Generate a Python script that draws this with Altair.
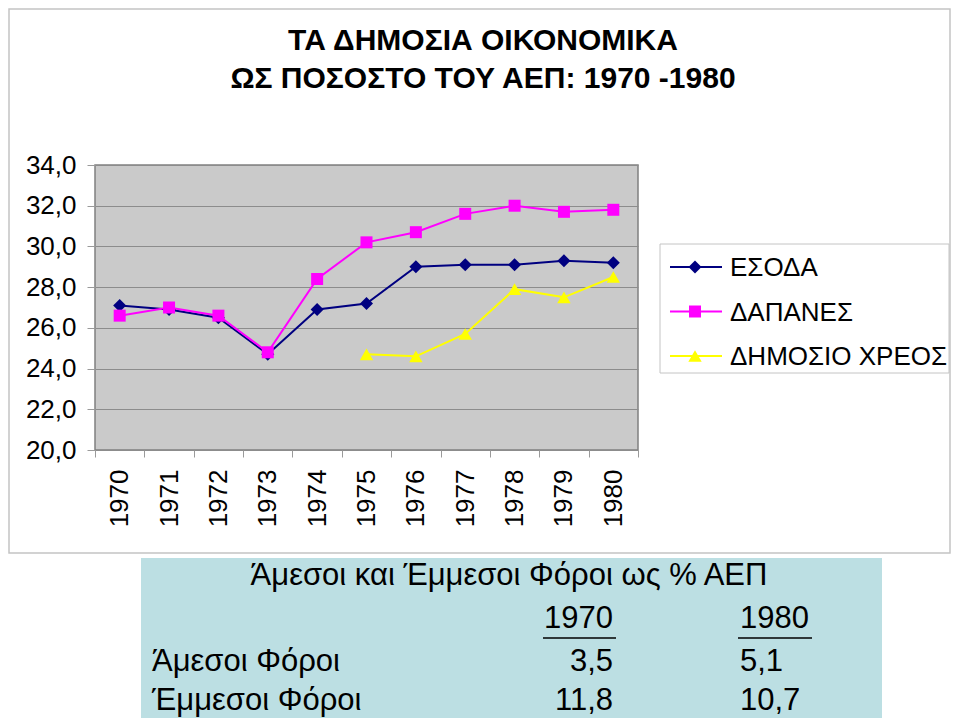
import altair as alt
import pandas as pd

# ---------------- data ----------------
years = ["1970", "1971", "1972", "1973", "1974", "1975", "1976", "1977", "1978", "1979", "1980"]
series = ["ΕΣΟΔΑ", "ΔΑΠΑΝΕΣ", "ΔΗΜΟΣΙΟ ΧΡΕΟΣ"]
esoda = [27.1, 26.9, 26.5, 24.7, 26.9, 27.2, 29.0, 29.1, 29.1, 29.3, 29.2]
dapanes = [26.6, 27.0, 26.6, 24.8, 28.4, 30.2, 30.7, 31.6, 32.0, 31.7, 31.8]
xreos = [None, None, None, None, None, 24.7, 24.6, 25.7, 27.9, 27.5, 28.5]
y_ticks = [20, 22, 24, 26, 28, 30, 32, 34]

title_lines = ["ΤΑ ΔΗΜΟΣΙΑ ΟΙΚΟΝΟΜΙΚΑ", "ΩΣ ΠΟΣΟΣΤΟ ΤΟΥ ΑΕΠ: 1970 -1980"]

tax_title = "Άμεσοι και Έμμεσοι Φόροι ως % ΑΕΠ"
tax_years = ["1970", "1980"]
tax_rows = ["Άμεσοι Φόροι", "Έμμεσοι Φόροι"]
tax_1970 = [3.5, 11.8]
tax_1980 = [5.1, 10.7]

# ---------------- styles ----------------
colors = ["#000080", "#ff00ff", "#ffff00"]
shapes = ["diamond", "square", "triangle-up"]
sizes = [170, 144, 180]
FONT = "Liberation Sans"

rows = []
for s, vals in zip(series, [esoda, dapanes, xreos]):
    for yr, v in zip(years, vals):
        if v is not None:
            rows.append({"year": yr, "series": s, "value": v})
df = pd.DataFrame(rows)

def fmt(v):
    return f"{v:.1f}".replace(".", ",")

x_enc = alt.X(
    "year:O",
    bandPosition=0.5,
    scale=alt.Scale(type="band", domain=years, paddingInner=0, paddingOuter=0),
    axis=alt.Axis(
        title=None, labelAngle=-90, labelFontSize=26, labelColor="black",
        labelFont=FONT, tickBand="extent", tickSize=7, tickColor="#9a9a9a",
        labelPadding=12, domain=False, grid=False,
    ),
)
y_enc = alt.Y(
    "value:Q",
    scale=alt.Scale(domain=[20, 34], nice=False, zero=False),
    axis=alt.Axis(
        title=None, values=y_ticks,
        labelExpr="replace(format(datum.value, '.1f'), '.', ',')",
        labelFontSize=26, labelColor="black", labelFont=FONT,
        tickSize=8, tickColor="#9a9a9a", labelPadding=11, domain=False,
        grid=True, gridColor="#8c8c8c", gridWidth=1,
    ),
)
color_enc = alt.Color("series:N", scale=alt.Scale(domain=series, range=colors), legend=None)

one = pd.DataFrame({"k": [0]})

layers = []

# outer border of the chart area
layers.append(
    alt.Chart(one).mark_rect(fillOpacity=0, stroke="#c4c4c4", strokeWidth=1.5).encode(
        x=alt.value(-86), x2=alt.value(855), y=alt.value(-156), y2=alt.value(388)
    )
)

lines = alt.Chart(df).mark_line(strokeWidth=2).encode(x=x_enc, y=y_enc, color=color_enc)
layers.append(lines)
for s, shp, sz in zip(series, shapes, sizes):
    layers.append(
        alt.Chart(df).transform_filter(alt.datum.series == s)
        .mark_point(filled=True, opacity=1, shape=shp, size=sz)
        .encode(x=x_enc, y=y_enc, color=color_enc)
    )

# title
for t, yy in zip(title_lines, [-115, -77]):
    layers.append(
        alt.Chart(pd.DataFrame({"t": [t]})).mark_text(
            font=FONT, fontSize=30, fontWeight="bold", color="black",
            align="center", baseline="alphabetic",
        ).encode(x=alt.value(388), y=alt.value(yy), text="t:N")
    )

# legend
layers.append(
    alt.Chart(one).mark_rect(fill="white", stroke="#c4c4c4", strokeWidth=1).encode(
        x=alt.value(565), x2=alt.value(854), y=alt.value(79), y2=alt.value(208)
    )
)
for i, (s, c, shp, sz) in enumerate(zip(series, colors, shapes, sizes)):
    yy = 102 + i * 44.5
    d = pd.DataFrame({"t": [s]})
    layers.append(
        alt.Chart(d).mark_rule(color=c, strokeWidth=2).encode(
            x=alt.value(575), x2=alt.value(627), y=alt.value(yy)
        )
    )
    layers.append(
        alt.Chart(d).mark_point(filled=True, opacity=1, shape=shp, size=sz, color=c).encode(
            x=alt.value(600), y=alt.value(yy)
        )
    )
    layers.append(
        alt.Chart(d).mark_text(
            font=FONT, fontSize=26, color="black", align="left", baseline="middle"
        ).encode(x=alt.value(635), y=alt.value(yy + 1), text="t:N")
    )

# tax table box
layers.append(
    alt.Chart(one).mark_rect(fill="#bcdfe3").encode(
        x=alt.value(46), x2=alt.value(787), y=alt.value(393), y2=alt.value(560)
    )
)
txt = dict(font=FONT, fontSize=31, color="black", baseline="alphabetic")
layers.append(
    alt.Chart(pd.DataFrame({"t": [tax_title]})).mark_text(align="center", **txt)
    .encode(x=alt.value(414), y=alt.value(420), text="t:N")
)
# header years
layers.append(
    alt.Chart(pd.DataFrame({"t": [tax_years[0]]})).mark_text(align="right", **txt)
    .encode(x=alt.value(518), y=alt.value(463), text="t:N")
)
layers.append(
    alt.Chart(pd.DataFrame({"t": [tax_years[1]]})).mark_text(align="left", **txt)
    .encode(x=alt.value(645), y=alt.value(463), text="t:N")
)
layers.append(
    alt.Chart(one).mark_rule(color="black", strokeWidth=1.5).encode(
        x=alt.value(448), x2=alt.value(521), y=alt.value(473)
    )
)
layers.append(
    alt.Chart(one).mark_rule(color="black", strokeWidth=1.5).encode(
        x=alt.value(643), x2=alt.value(717), y=alt.value(473)
    )
)
for i, (r, a, b) in enumerate(zip(tax_rows, tax_1970, tax_1980)):
    yy = 506 + i * 39
    layers.append(
        alt.Chart(pd.DataFrame({"t": [r]})).mark_text(align="left", **txt)
        .encode(x=alt.value(57), y=alt.value(yy), text="t:N")
    )
    layers.append(
        alt.Chart(pd.DataFrame({"t": [fmt(a)]})).mark_text(align="right", **txt)
        .encode(x=alt.value(518), y=alt.value(yy), text="t:N")
    )
    layers.append(
        alt.Chart(pd.DataFrame({"t": [fmt(b)]})).mark_text(align="left", **txt)
        .encode(x=alt.value(645), y=alt.value(yy), text="t:N")
    )

chart = (
    alt.layer(*layers)
    .properties(
        width=543, height=285,
        padding={"left": 87, "top": 157, "right": 314, "bottom": 268},
        autosize=alt.AutoSizeParams(type="none"),
        background="white",
    )
    .configure(font=FONT)
    .configure_view(fill="#cacaca", stroke="#808080", strokeWidth=1.5)
)

chart.save("out.html", embed_options={"renderer": "svg", "actions": False})
